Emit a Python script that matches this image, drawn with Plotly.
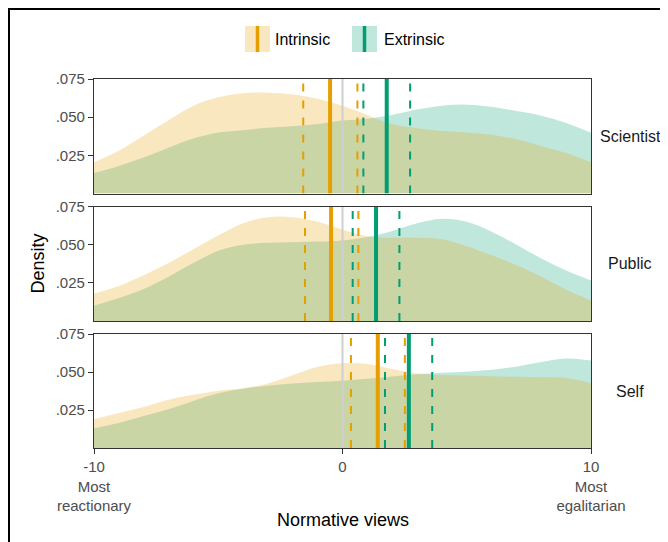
import plotly.graph_objects as go

# ---------------- data ----------------
x_grid = [-10, -9, -8, -7, -6, -5, -4, -3, -2, -1, 0, 1, 2, 3, 4, 5, 6, 7, 8, 9, 10]

panels = ["Scientist", "Public", "Self"]

intrinsic_density = {
    "Scientist": [0.0205, 0.028, 0.038, 0.048, 0.0575, 0.063, 0.0657, 0.066, 0.0648, 0.062, 0.0575,
                  0.0515, 0.0455, 0.0428, 0.041, 0.040, 0.0385, 0.0355, 0.031, 0.0265, 0.0205],
    "Public": [0.018, 0.023, 0.030, 0.038, 0.047, 0.056, 0.064, 0.068, 0.068, 0.065, 0.060,
               0.0555, 0.0545, 0.0546, 0.0535, 0.049, 0.043, 0.0365, 0.029, 0.0205, 0.0135],
    "Self": [0.019, 0.023, 0.027, 0.0318, 0.035, 0.0377, 0.0393, 0.0425, 0.048, 0.0535, 0.0558,
             0.0553, 0.052, 0.049, 0.0481, 0.0477, 0.0472, 0.0468, 0.0465, 0.046, 0.0425],
}

extrinsic_density = {
    "Scientist": [0.0134, 0.018, 0.0235, 0.030, 0.036, 0.040, 0.0415, 0.043, 0.044, 0.0455, 0.0478,
                  0.049, 0.0515, 0.055, 0.0575, 0.0582, 0.0568, 0.054, 0.051, 0.0462, 0.0398],
    "Public": [0.010, 0.015, 0.021, 0.029, 0.038, 0.046, 0.050, 0.0512, 0.0516, 0.052, 0.0527,
               0.055, 0.059, 0.064, 0.067, 0.065, 0.0585, 0.050, 0.041, 0.033, 0.0265],
    "Self": [0.013, 0.0165, 0.021, 0.0255, 0.031, 0.036, 0.039, 0.041, 0.0425, 0.0435, 0.0443,
             0.0455, 0.047, 0.0485, 0.0495, 0.0502, 0.0515, 0.0535, 0.0565, 0.0588, 0.0575],
}

# mean and 95% interval bounds per panel
intrinsic_mean = [-0.5, -0.46, 1.42]
intrinsic_low = [-1.58, -1.51, 0.34]
intrinsic_high = [0.60, 0.64, 2.51]
extrinsic_mean = [1.78, 1.35, 2.67]
extrinsic_low = [0.84, 0.41, 1.71]
extrinsic_high = [2.72, 2.29, 3.61]
reference_value = 0

y_tickvals = [0.025, 0.05, 0.075]
y_ticktext = [".025", ".050", ".075"]
x_tickvals = [-10, 0, 10]
x_ticktext = ["-10<br>Most<br>reactionary", "0", "10<br>Most<br>egalitarian"]

# ---------------- style ----------------
ORANGE = "#E69F00"
GREEN = "#009E73"
ORANGE_FILL = "rgba(230,159,0,0.25)"
GREEN_FILL = "rgba(0,158,115,0.25)"
FONT = "Liberation Sans, Arial, sans-serif"
TICK_COLOR = "#4D4D4D"
LINE_COLOR = "#333333"

# geometry: page puts figure at (8, 8) in the window
OFF = 8
W, H = 668 - OFF, 542 - OFF
PLOT_L, PLOT_R, PLOT_T, PLOT_B = 94, 591, 79, 448   # screen pixels of the panel block
L = PLOT_L - OFF
R = W - (PLOT_R - OFF)
T = PLOT_T - OFF
B = H - (PLOT_B - OFF)
PW = W - L - R
PH = H - T - B


def px_x(px):
    return (px - OFF - L) / PW


def px_y(py):
    return (H - B - (py - OFF)) / PH


domains = [
    [px_y(193.5), 1.0],
    [px_y(321), px_y(206.5)],
    [0.0, px_y(334)],
]

fig = go.Figure()

for i, p in enumerate(panels):
    k = "" if i == 0 else str(i + 1)
    xa, ya = "x" + k, "y" + k
    fig.add_trace(go.Scatter(x=x_grid, y=extrinsic_density[p], mode="lines", fill="tozeroy",
                             fillcolor=GREEN_FILL, line=dict(width=0, shape="spline", smoothing=1),
                             xaxis=xa, yaxis=ya, showlegend=False, hoverinfo="skip"))
    fig.add_trace(go.Scatter(x=x_grid, y=intrinsic_density[p], mode="lines", fill="tozeroy",
                             fillcolor=ORANGE_FILL, line=dict(width=0, shape="spline", smoothing=1),
                             xaxis=xa, yaxis=ya, showlegend=False, hoverinfo="skip"))
    # reference line
    fig.add_trace(go.Scatter(x=[reference_value, reference_value], y=[0, 0.075], mode="lines",
                             line=dict(color="#CFCFCF", width=2), xaxis=xa, yaxis=ya,
                             showlegend=False, hoverinfo="skip"))
    for vals, col, width, dash in [
        (intrinsic_low, ORANGE, 2, "8px,9px"), (intrinsic_high, ORANGE, 2, "8px,9px"),
        (extrinsic_low, GREEN, 2, "8px,9px"), (extrinsic_high, GREEN, 2, "8px,9px"),
        (intrinsic_mean, ORANGE, 4, "solid"), (extrinsic_mean, GREEN, 4, "solid"),
    ]:
        v = vals[i]
        fig.add_trace(go.Scatter(x=[v, v], y=[0, 0.075], mode="lines",
                                 line=dict(color=col, width=width, dash=dash),
                                 xaxis=xa, yaxis=ya, showlegend=False, hoverinfo="skip"))

layout = dict(
    width=W, height=H,
    margin=dict(l=L, r=R, t=T, b=B, pad=0),
    plot_bgcolor="white", paper_bgcolor="white",
    font=dict(family=FONT, size=15, color=TICK_COLOR),
    showlegend=False,
)

for i, p in enumerate(panels):
    k = "" if i == 0 else str(i + 1)
    xaxis = dict(range=[-10, 10], domain=[0, 1], anchor="y" + k, showgrid=False, zeroline=False,
                 showline=True, mirror=True, linecolor=LINE_COLOR, linewidth=1.3,
                 fixedrange=True)
    if i == 2:
        xaxis.update(tickvals=x_tickvals, ticktext=x_ticktext, ticks="outside", ticklen=5,
                     tickcolor=LINE_COLOR, tickwidth=1.2,
                     tickfont=dict(size=15, color=TICK_COLOR, family=FONT))
    else:
        xaxis.update(showticklabels=False, ticks="", matches="x3")
    yaxis = dict(range=[0, 0.075], domain=domains[i], anchor="x" + k, showgrid=False, zeroline=False,
                 showline=True, mirror=True, linecolor=LINE_COLOR, linewidth=1.3,
                 tickvals=y_tickvals, ticktext=y_ticktext, ticks="outside", ticklen=5,
                 tickcolor=LINE_COLOR, tickwidth=1.2,
                 tickfont=dict(size=15, color=TICK_COLOR, family=FONT))
    layout["xaxis" + k] = xaxis
    layout["yaxis" + k] = yaxis

fig.update_layout(**layout)

annotations = []
strip_y = [(79 + 193.5) / 2, (206.5 + 321) / 2, (334 + 448) / 2]
for i, p in enumerate(panels):
    annotations.append(dict(text=p, x=px_x(630), y=px_y(strip_y[i]), xref="paper", yref="paper",
                            showarrow=False, xanchor="center", yanchor="middle",
                            font=dict(size=16, color="#1A1A1A", family=FONT)))
annotations.append(dict(text="Density", x=px_x(37), y=px_y(263.5), xref="paper", yref="paper",
                        showarrow=False, textangle=-90, xanchor="center", yanchor="middle",
                        font=dict(size=18, color="black", family=FONT)))
annotations.append(dict(text="Normative views", x=px_x(342.5), y=px_y(520), xref="paper", yref="paper",
                        showarrow=False, xanchor="center", yanchor="middle",
                        font=dict(size=18, color="black", family=FONT)))
# legend labels
annotations.append(dict(text="Intrinsic", x=px_x(273), y=px_y(40), xref="paper", yref="paper",
                        showarrow=False, xanchor="left", yanchor="middle",
                        font=dict(size=16, color="black", family=FONT)))
annotations.append(dict(text="Extrinsic", x=px_x(382), y=px_y(40), xref="paper", yref="paper",
                        showarrow=False, xanchor="left", yanchor="middle",
                        font=dict(size=16, color="black", family=FONT)))

shapes = []
# legend keys
for x0, x1, xl, fillc, linec in [(245, 270, 257.5, ORANGE_FILL, ORANGE), (352, 377, 364.5, GREEN_FILL, GREEN)]:
    shapes.append(dict(type="rect", xref="paper", yref="paper", x0=px_x(x0), x1=px_x(x1),
                       y0=px_y(52), y1=px_y(26), fillcolor=fillc, line=dict(width=0)))
    shapes.append(dict(type="line", xref="paper", yref="paper", x0=px_x(xl), x1=px_x(xl),
                       y0=px_y(52), y1=px_y(26), line=dict(color=linec, width=3.5)))
# outer frame
shapes.append(dict(type="rect", xref="paper", yref="paper", x0=px_x(9), x1=px_x(720),
                   y0=px_y(600), y1=px_y(9), line=dict(color="black", width=2),
                   fillcolor="rgba(0,0,0,0)", layer="above"))

fig.update_layout(annotations=annotations, shapes=shapes)

fig.write_html("out.html")
